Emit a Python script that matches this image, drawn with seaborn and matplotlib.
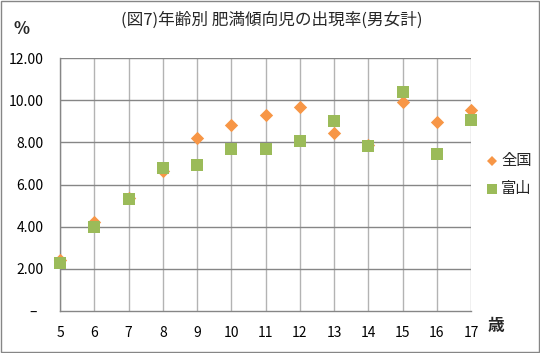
import numpy as np
import pandas as pd
import seaborn as sns
import matplotlib.pyplot as plt
from matplotlib.patches import Rectangle

# 年齢別 肥満傾向児の出現率 (男女計)
ages = [5, 6, 7, 8, 9, 10, 11, 12, 13, 14, 15, 16, 17]
zenkoku = [2.40, 4.20, 5.35, 6.65, 8.22, 8.80, 9.28, 9.68, 8.44, 7.86, 9.93, 8.98, 9.52]
toyama = [2.29, 3.98, 5.31, 6.80, 6.93, 7.67, 7.67, 8.08, 9.01, 7.84, 10.40, 7.46, 9.06]
y_ticks = [0, 2, 4, 6, 8, 10, 12]

sns.set_style("white")
plt.rcParams["font.family"] = ["Noto Sans CJK JP", "DejaVu Sans"]

df_zen = pd.DataFrame({"age": ages, "rate": zenkoku})
df_toy = pd.DataFrame({"age": ages, "rate": toyama})

fig = plt.figure(figsize=(5.4, 3.53), dpi=100)
ax = fig.add_axes([60 / 540, 1 - 311 / 353, 411 / 540, 253 / 353])

grid_dark = "#868686"
grid_light = "#b3b3b3"

sns.scatterplot(data=df_zen, x="age", y="rate", marker="D", color="#f79646",
                s=46, linewidth=0, ax=ax, zorder=3)
sns.scatterplot(data=df_toy, x="age", y="rate", marker="s", color="#9bbb59",
                s=76, linewidth=0, ax=ax, zorder=4)
for c in ax.collections:
    c.set_clip_on(False)

ax.set_xlim(5, 17)
ax.set_ylim(0, 12)
ax.set_xticks(ages)
ax.set_yticks(y_ticks)
ax.set_yticklabels(["–  " if v == 0 else f"{v:.2f}" for v in y_ticks])
ax.set_xlabel("")
ax.set_ylabel("")

for x in ages:
    ax.axvline(x, color=grid_light, lw=1, zorder=1)
for y in y_ticks[1:]:
    ax.axhline(y, color=grid_dark, lw=1, zorder=1)

for side in ["top", "right"]:
    ax.spines[side].set_visible(False)
for side in ["left", "bottom"]:
    ax.spines[side].set_color(grid_dark)
    ax.spines[side].set_linewidth(1)
ax.tick_params(axis="both", which="both", direction="out", length=5,
               color=grid_dark, labelsize=10, labelcolor="black")
ax.tick_params(axis="y", pad=7)
ax.tick_params(axis="x", pad=6)

fig.text(272 / 540, 1 - 20 / 353, "(図7)年齢別 肥満傾向児の出現率(男女計)",
         ha="center", va="center", fontsize=12)
fig.text(21 / 540, 1 - 29 / 353, "%", ha="center", va="center", fontsize=12,
         fontweight="bold")
fig.text(496 / 540, 1 - 326 / 353, "歳", ha="center", va="center", fontsize=12,
         fontweight="bold")

# 凡例
for name, col, mk, ms, ly in [("全国", "#f79646", "D", 5.5, 161),
                              ("富山", "#9bbb59", "s", 7.5, 189)]:
    fig.lines.append(plt.Line2D([492 / 540], [1 - ly / 353], marker=mk, color=col,
                                markersize=ms, markeredgewidth=0, linestyle="none",
                                transform=fig.transFigure))
    fig.text(501 / 540, 1 - ly / 353, name, ha="left", va="center", fontsize=11)

fig.patches.append(Rectangle((0.001, 0.002), 0.997, 0.996, transform=fig.transFigure,
                             fill=False, edgecolor=grid_dark, lw=1))

fig.savefig("out.png", dpi=100)
